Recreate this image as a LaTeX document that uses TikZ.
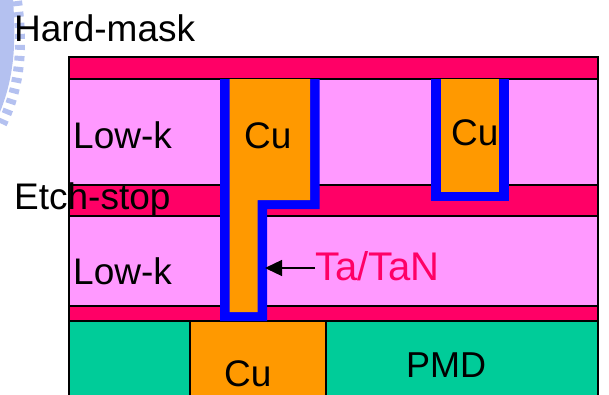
\documentclass[tikz,border=0pt]{standalone}
\usepackage{fontspec}
\setmainfont{Liberation Sans}
\usetikzlibrary{arrows.meta}
\definecolor{maskred}{HTML}{FF0066}
\definecolor{lowkpink}{HTML}{FF99FF}
\definecolor{cuorange}{HTML}{FF9900}
\definecolor{pmdgreen}{HTML}{00CC99}
\definecolor{logoblue}{HTML}{B4C1F0}
\tikzset{
  layer/.style={draw=black,line width=1.3pt},
  lbl/.style={anchor=base west,inner sep=0pt,font=\fontsize{37}{37}\selectfont}
}
\begin{document}
\begin{tikzpicture}[x=1pt,y=-1pt]
  \useasboundingbox (0,0) rectangle (609,394);
  % logo behind the text
  \fill[logoblue] (0,0) -- (13,0) .. controls (16,40) and (15,75) .. (0,112) -- cycle;
  \draw[logoblue,line width=10pt,dash pattern=on 5pt off 6pt] (17,1) .. controls (23,45) and (21,85) .. (2,124);

  % layers
  \filldraw[layer,fill=maskred] (69,57) rectangle (598,79);
  \filldraw[layer,fill=lowkpink] (69,79) rectangle (598,185);
  \filldraw[layer,fill=maskred] (69,185) rectangle (598,216);
  \filldraw[layer,fill=lowkpink] (69,216) rectangle (598,306);
  \filldraw[layer,fill=maskred] (69,306) rectangle (598,321);
  \filldraw[layer,fill=pmdgreen] (69,321) rectangle (598,396);
  \filldraw[layer,fill=cuorange] (190,321) rectangle (326,396);

  % liner and copper
  \fill[blue] (220,79) -- (319.5,79) -- (319.5,209) -- (267,209) -- (267,321) -- (220,321) -- cycle;
  \fill[cuorange] (229.5,79) -- (310,79) -- (310,200) -- (257.5,200) -- (257.5,312) -- (229.5,312) -- cycle;
  \fill[blue] (431,79) -- (508.5,79) -- (508.5,201) -- (431,201) -- cycle;
  \fill[cuorange] (441,79) -- (499,79) -- (499,192) -- (441,192) -- cycle;

  \node[lbl] (hardmask) at (14,41.5) {Hard-mask};
  \node[lbl] (etchstop) at (14,209) {Etch-stop};
  \node[lbl] (lowkupper) at (73,148) {Low-k};
  \node[lbl] (lowklower) at (73,284) {Low-k};
  \node[lbl] (culeft) at (244,148) {Cu};
  \node[lbl] (curight) at (451,145) {Cu};
  \node[lbl] (cubottom) at (224,386) {Cu};
  \node[lbl,font=\fontsize{36}{36}\selectfont] (pmd) at (406,377) {PMD};
  \node[lbl,text=maskred,font=\fontsize{40}{40}\selectfont] (tatan) at (315,280) {Ta/TaN};

  \coordinate (wall) at (265,268);
  \draw[-{Triangle[length=17pt,width=16pt]},line width=1.3pt] (tatan.west |- wall) -- (wall);
\end{tikzpicture}
\end{document}
